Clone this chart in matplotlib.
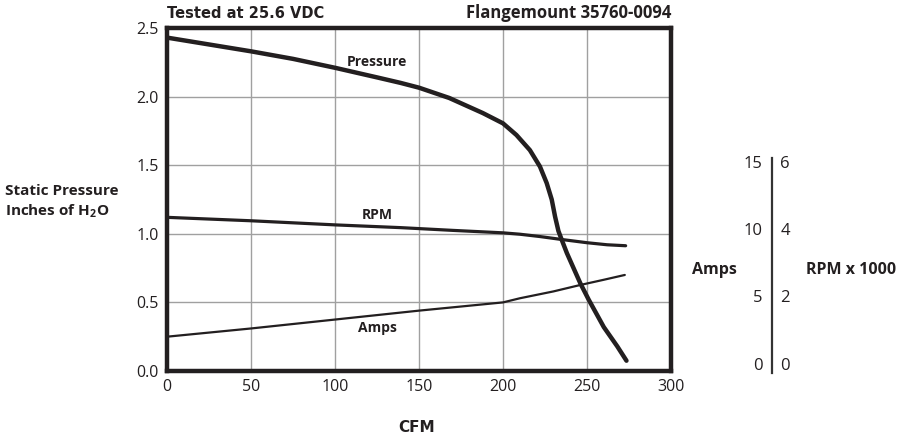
import matplotlib
matplotlib.use("Agg")
import matplotlib.pyplot as plt

# ---- data (y in main-axis units) ----
pressure_cfm = [0, 25, 50, 75, 100, 125, 139, 150, 168, 188, 200, 208, 216, 222, 226, 229, 231, 233,
                235, 238, 242, 246, 251, 260, 268, 273.5]
pressure_val = [2.43, 2.38, 2.33, 2.275, 2.21, 2.14, 2.10, 2.065, 1.99, 1.88, 1.805, 1.72, 1.61, 1.49, 1.37,
                1.25, 1.125, 1.02, 0.955, 0.86, 0.75, 0.64, 0.52, 0.32, 0.18, 0.075]

rpm_cfm = [0, 50, 100, 139, 170, 200, 210, 222, 234, 250, 262, 273]
rpm_val = [1.12, 1.095, 1.065, 1.045, 1.025, 1.007, 0.997, 0.98, 0.96, 0.935, 0.92, 0.913]

amps_cfm = [0, 50, 100, 150, 200, 210, 230, 246, 260, 272.5]
amps_val = [0.25, 0.31, 0.375, 0.44, 0.50, 0.53, 0.58, 0.627, 0.665, 0.70]

x_ticks = [0, 50, 100, 150, 200, 250, 300]
y_ticks = [0.0, 0.5, 1.0, 1.5, 2.0, 2.5]
y_tick_labels = ["0.0", "0.5", "1.0", "1.5", "2.0", "2.5"]
amps_scale = ["0", "5", "10", "15"]
rpm_scale = ["0", "2", "4", "6"]
scale_pos = [0.0, 0.5, 1.0, 1.5]

COND = ["Open Sans", "DejaVu Sans"]   # bold resolves to a condensed face
WIDE = ["DejaVu Sans"]
TCK = ["Open Sans", "DejaVu Sans"]
INK = "#231f20"
plt.rcParams['mathtext.fontset'] = 'custom'
plt.rcParams['mathtext.rm'] = 'Open Sans:bold'
plt.rcParams['mathtext.bf'] = 'Open Sans:bold'

fig = plt.figure(figsize=(9.04, 4.37), dpi=100)
ax = fig.add_axes([167/904, 1-371/437, (671-167)/904, (371-28)/437])

ax.plot(pressure_cfm, pressure_val, color=INK, lw=3.2, solid_capstyle='round', solid_joinstyle='round')
ax.plot(rpm_cfm, rpm_val, color=INK, lw=2.3, solid_capstyle='round', solid_joinstyle='round')
ax.plot(amps_cfm, amps_val, color=INK, lw=1.6, solid_capstyle='round', solid_joinstyle='round')

ax.set_xlim(0, 300)
ax.set_ylim(0, 2.5)
ax.set_xticks(x_ticks)
ax.set_yticks(y_ticks)
ax.set_yticklabels(y_tick_labels)
ax.grid(True, color="#a0a0a0", lw=1.0)
ax.set_axisbelow(True)
ax.tick_params(length=0, pad=6, labelsize=11.5, colors=INK)
for lab in ax.get_xticklabels() + ax.get_yticklabels():
    lab.set_family(TCK)
for s in ax.spines.values():
    s.set_linewidth(3.2)
    s.set_color(INK)

ax.text(125, 2.25, "Pressure", fontsize=10, fontweight='bold', family=COND, ha='center', va='center', color=INK)
ax.text(125, 1.135, "RPM", fontsize=10, fontweight='bold', family=COND, ha='center', va='center', color=INK)
ax.text(125, 0.31, "Amps", fontsize=10, fontweight='bold', family=COND, ha='center', va='center', color=INK)

fig.text(167/904, 1-13/437, "Tested at 25.6 VDC", fontsize=10.5, fontweight='bold', family=WIDE, ha='left', va='center', color=INK)
fig.text(671/904, 1-13/437, "Flangemount 35760-0094", fontsize=12, fontweight='bold', family=COND, ha='right', va='center', color=INK)
fig.text(5/904, 1-191/437, "Static Pressure", fontsize=11, fontweight='bold', family=COND, ha='left', va='center', color=INK)
fig.text(5/904, 1-211/437, r"Inches of H$_\mathbf{2}$O", fontsize=11, fontweight='bold', family=COND, ha='left', va='center', color=INK)
fig.text(417/904, 1-427/437, "CFM", fontsize=11, fontweight='bold', family=WIDE, ha='center', va='center', color=INK)
fig.text(714/904, 1-270/437, "Amps", fontsize=11.5, fontweight='bold', family=COND, ha='center', va='center', color=INK)
fig.text(851/904, 1-270/437, "RPM x 1000", fontsize=11.5, fontweight='bold', family=COND, ha='center', va='center', color=INK)

# right-hand scale
ax2 = fig.add_axes([771/904, 1-371/437, 2/904, (371-28)/437])
ax2.set_ylim(0, 2.5)
ax2.set_xlim(0, 1)
ax2.axis('off')
ax2.plot([0.5, 0.5], [-0.015, 1.555], color="#333333", lw=1.6, clip_on=False)
for p, a, r in zip(scale_pos, amps_scale, rpm_scale):
    ax2.annotate(a, (0.5, p * 0.98 + 0.04), xytext=(-7, 0), textcoords='offset points', ha='right', va='center',
                 fontsize=12, family=TCK, color=INK, annotation_clip=False)
    ax2.annotate(r, (0.5, p * 0.98 + 0.04), xytext=(6, 0), textcoords='offset points', ha='left', va='center',
                 fontsize=12, family=TCK, color=INK, annotation_clip=False)

fig.savefig("out.png", dpi=100)
